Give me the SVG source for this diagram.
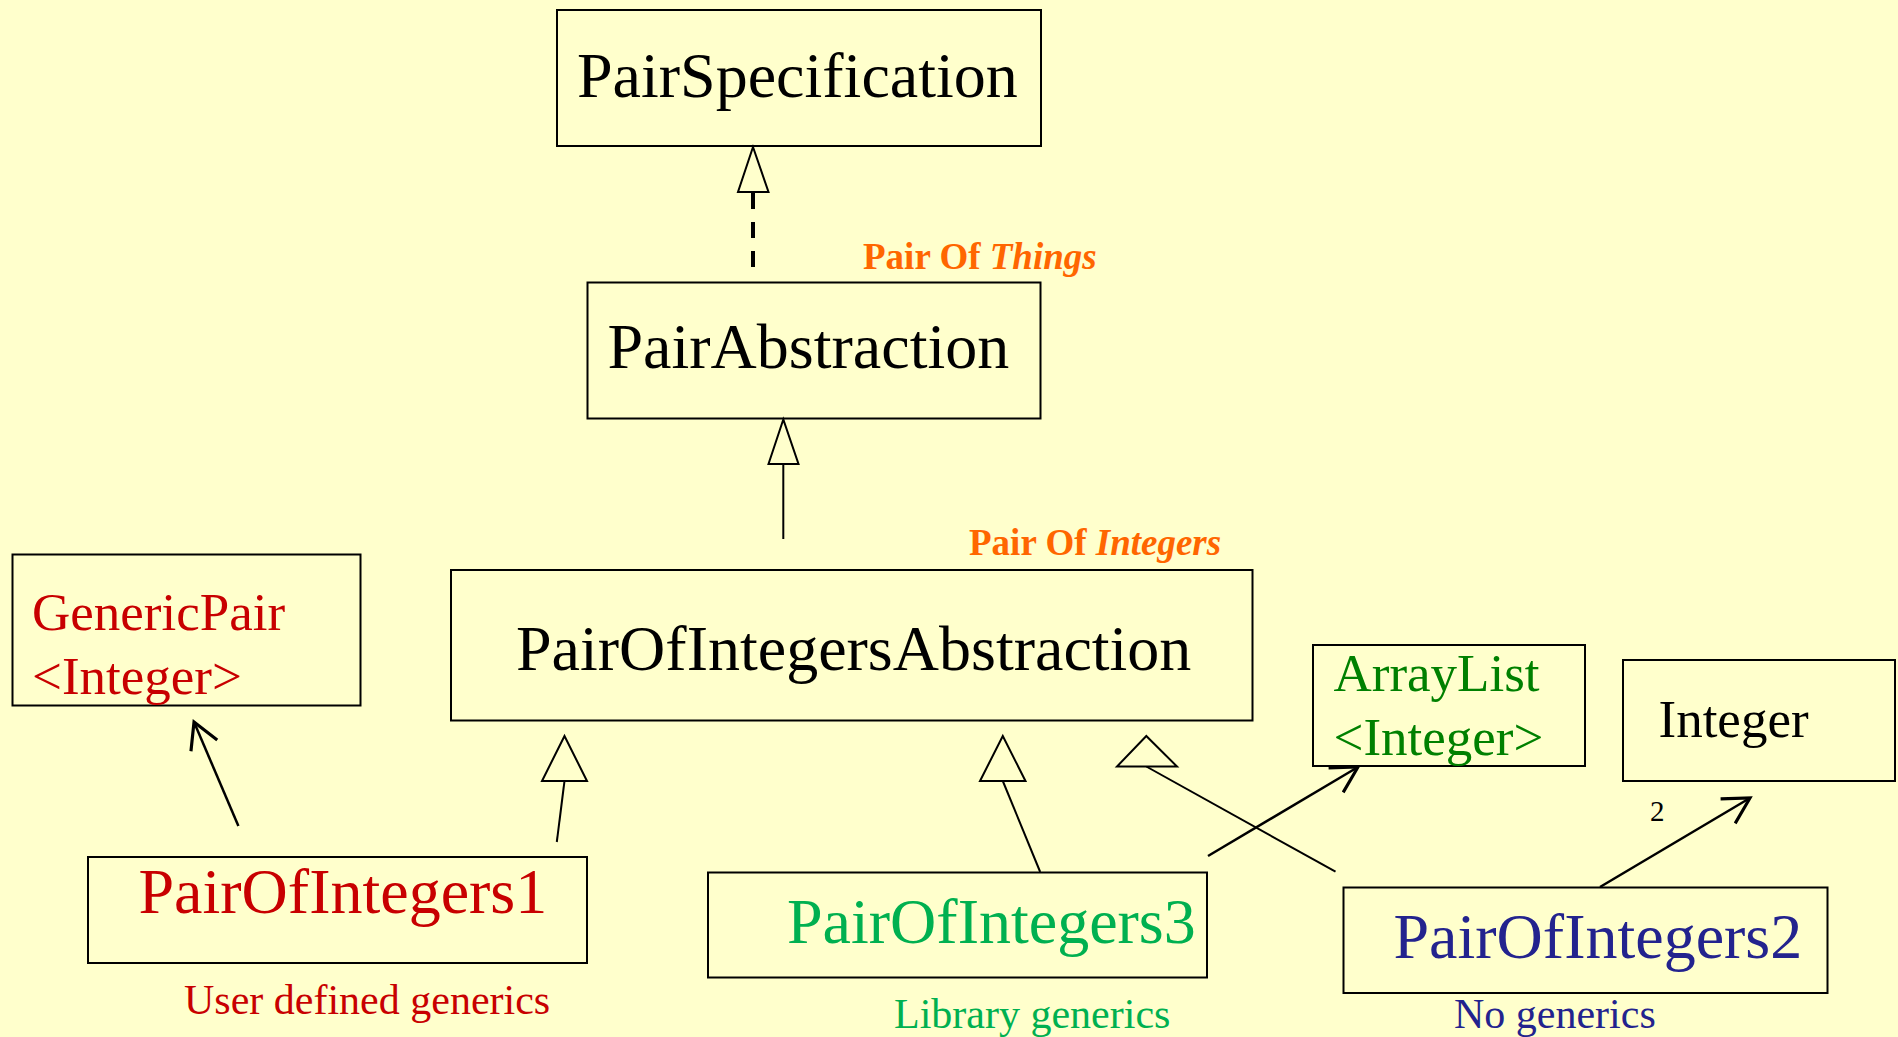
<svg xmlns="http://www.w3.org/2000/svg" width="1898" height="1037" viewBox="0 0 1898 1037">
  <style>
    .box { fill: none; stroke: #000; stroke-width: 2; }
    .name { font-family: "Liberation Serif", "Times New Roman", serif; font-size: 64px; fill: #000; }
    .small { font-family: "Liberation Serif", "Times New Roman", serif; font-size: 53px; }
    .note { font-family: "Liberation Serif", "Times New Roman", serif; font-size: 42px; }
    .tag { font-family: "Liberation Serif", "Times New Roman", serif; font-size: 37px; font-weight: bold; fill: #FF6600; }
    .red { fill: #C80000; }
    .green { fill: #00B050; }
    .dkgreen { fill: #008000; }
    .navy { fill: #23238E; }
    .link { fill: none; stroke: #000; stroke-width: 2; }
    .assoc { fill: none; stroke: #000; stroke-width: 2.5; }
    .dash { fill: none; stroke: #000; stroke-width: 4; stroke-dasharray: 16 13; }
    .tri { fill: #FFFFCC; stroke: #000; stroke-width: 2; stroke-linejoin: miter; }
  </style>
  <defs>
    <marker id="open" markerUnits="userSpaceOnUse" markerWidth="40" markerHeight="40" viewBox="-22 -14 26 28" refX="0" refY="0" orient="auto">
      <path d="M -18,-10 L 0,0 L -18,10" fill="none" stroke="#000" stroke-width="2.2"/>
    </marker>
  </defs>

  <rect width="1898" height="1037" fill="#FFFFCC"/>

  <!-- connectors -->
  <g id="connectors">
    <!-- realization: PairAbstraction implements PairSpecification -->
    <line class="dash" x1="753" y1="193" x2="753" y2="267"/>
    <polygon class="tri" points="753,147 738,192 768.5,192"/>
    <!-- PairOfIntegersAbstraction extends PairAbstraction -->
    <line class="link" x1="783.3" y1="464" x2="783.3" y2="539"/>
    <polygon class="tri" points="783.3,419.5 768.5,464 798.5,464"/>
    <!-- PairOfIntegers1 uses GenericPair -->
    <line class="assoc" x1="238.4" y1="826" x2="194" y2="722" marker-end="url(#open)"/>
    <!-- PairOfIntegers1 extends PairOfIntegersAbstraction -->
    <line class="link" x1="564.5" y1="781" x2="556.8" y2="842"/>
    <polygon class="tri" points="564.5,736 542,781 587,781"/>
    <!-- PairOfIntegers3 extends PairOfIntegersAbstraction -->
    <line class="link" x1="1002.8" y1="781" x2="1040.2" y2="872"/>
    <polygon class="tri" points="1002.8,736 980,781 1025.5,781"/>
    <!-- PairOfIntegers2 extends PairOfIntegersAbstraction -->
    <line class="link" x1="1146.3" y1="766.5" x2="1335.5" y2="871.7"/>
    <polygon class="tri" points="1146.3,736 1117,766.5 1177,766.5"/>
    <!-- PairOfIntegers3 uses ArrayList -->
    <line class="assoc" x1="1208" y1="856" x2="1358" y2="767" marker-end="url(#open)"/>
    <!-- PairOfIntegers2 holds two Integers -->
    <line class="assoc" x1="1600" y1="887" x2="1750" y2="798" marker-end="url(#open)"/>
    <text x="1650" y="821" style="font-family: 'Liberation Serif', 'Times New Roman', serif; font-size: 29px;">2</text>
  </g>

  <g id="pair-specification">
    <rect class="box" x="557" y="10" width="484" height="136"/>
    <text class="name" x="577" y="97">PairSpecification</text>
  </g>

  <g id="pair-abstraction">
    <rect class="box" x="587.5" y="282.5" width="453" height="136"/>
    <text class="name" x="607.5" y="368">PairAbstraction</text>
    <text class="tag" x="863" y="269">Pair Of <tspan font-style="italic">Things</tspan></text>
  </g>

  <g id="pair-of-integers-abstraction">
    <rect class="box" x="451" y="570" width="801.5" height="150.5"/>
    <text class="name" x="516" y="670">PairOfIntegersAbstraction</text>
    <text class="tag" x="969" y="555">Pair Of <tspan font-style="italic">Integers</tspan></text>
  </g>

  <g id="generic-pair">
    <rect class="box" x="12.5" y="554.5" width="348" height="151"/>
    <text class="small red" x="32" y="630">GenericPair</text>
    <text class="small red" x="32" y="694">&lt;Integer&gt;</text>
  </g>

  <g id="array-list">
    <rect class="box" x="1313" y="645" width="272" height="121"/>
    <text class="small dkgreen" x="1333.5" y="691">ArrayList</text>
    <text class="small dkgreen" x="1333.5" y="755">&lt;Integer&gt;</text>
  </g>

  <g id="integer">
    <rect class="box" x="1623" y="660" width="272" height="121"/>
    <text class="small" x="1658.5" y="737">Integer</text>
  </g>

  <g id="pair-of-integers-1">
    <rect class="box" x="88" y="857" width="499" height="106"/>
    <text class="name red" x="138.5" y="913">PairOfIntegers1</text>
    <text class="note red" x="184" y="1014">User defined generics</text>
  </g>

  <g id="pair-of-integers-3">
    <rect class="box" x="708" y="872.5" width="499" height="105"/>
    <text class="name green" x="787" y="943">PairOfIntegers3</text>
    <text class="note green" x="894" y="1028">Library generics</text>
  </g>

  <g id="pair-of-integers-2">
    <rect class="box" x="1343.5" y="887.5" width="484" height="105.5"/>
    <text class="name navy" x="1393.5" y="958">PairOfIntegers2</text>
    <text class="note navy" x="1454" y="1028">No generics</text>
  </g>
</svg>
